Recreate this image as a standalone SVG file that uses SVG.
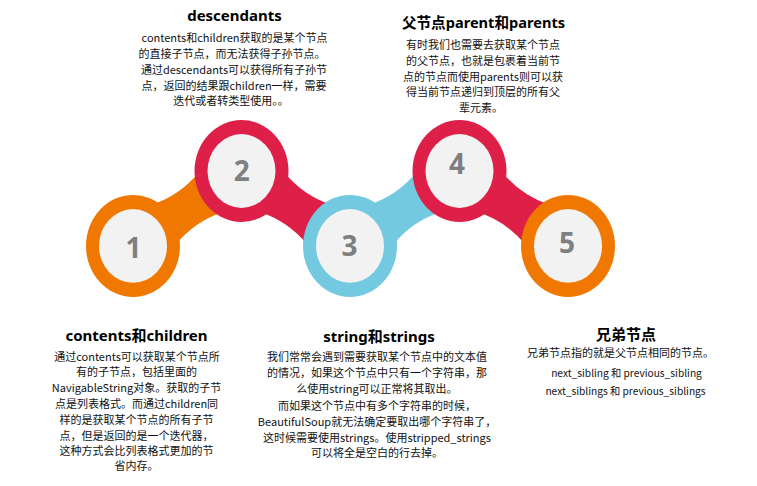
<svg xmlns="http://www.w3.org/2000/svg" width="757" height="486" viewBox="0 0 757 486">
<style>
.t{font-family:"Noto Sans","Noto Sans CJK SC",sans-serif;font-weight:bold;font-size:15px;fill:#000;text-anchor:middle}
.b{font-family:"Noto Sans CJK SC","Noto Sans",sans-serif;font-size:11px;fill:#111;text-anchor:middle}
.s{font-size:10.2px}
.n{font-family:"Open Sans","Noto Sans",sans-serif;font-weight:bold;font-size:28px;fill:#7F7F7F;text-anchor:middle}
.in{fill:#F2F2F2}
.or{fill:#F07800}.cr{fill:#DE1F48}.bl{fill:#72C9E0}
</style>
<defs>
<path id="br" d="M -28,-22 Q 0,-14 28,-22 L 28,22 Q 0,14 -28,22 Z"/>
</defs>
<rect width="757" height="486" fill="#fff"/>
<g transform="scale(1,1.085)">
<g id="connectors">
<use href="#br" class="or" transform="translate(187.25,192.15) rotate(-32.5)"/>
<use href="#br" class="cr" transform="translate(295.75,192.15) rotate(32.5)"/>
<use href="#br" class="bl" transform="translate(404.75,192.15) rotate(-32.5)"/>
<use href="#br" class="cr" transform="translate(513.75,192.15) rotate(32.5)"/>
</g>
<g id="c1"><circle cx="133" cy="226.7" r="47" class="or"/><circle cx="133" cy="226.7" r="34" class="in"/></g>
<g id="c2"><circle cx="241.5" cy="157.6" r="47" class="cr"/><circle cx="241.5" cy="157.6" r="34" class="in"/></g>
<g id="c3"><circle cx="350" cy="226.7" r="47" class="bl"/><circle cx="350" cy="226.7" r="34" class="in"/></g>
<g id="c4"><circle cx="459.5" cy="157.6" r="47" class="cr"/><circle cx="459.5" cy="157.6" r="34" class="in"/></g>
<g id="c5"><circle cx="568" cy="226.7" r="47" class="or"/><circle cx="568" cy="226.7" r="34" class="in"/></g>
</g>
<g id="numbers">
<text class="n" x="133.5" y="258">1</text>
<text class="n" x="241.7" y="181">2</text>
<text class="n" x="349.5" y="256">3</text>
<text class="n" x="457" y="174">4</text>
<text class="n" x="567" y="253">5</text>
</g>
<g id="n-descendants">
<text class="t" x="234.5" y="21">descendants</text>
<text class="b" x="234.5" y="42">contents和children获取的是某个节点</text>
<text class="b" x="232" y="58">的直接子节点，而无法获得子孙节点。</text>
<text class="b" x="234" y="74">通过descendants可以获得所有子孙节</text>
<text class="b" x="234" y="90">点，返回的结果跟children一样，需要</text>
<text class="b" x="231" y="105">迭代或者转类型使用。。</text>
</g>
<g id="n-parent">
<text class="t" x="483.5" y="28" style="font-size:14.6px">父节点parent和parents</text>
<text class="b" x="483" y="49">有时我们也需要去获取某个节点</text>
<text class="b" x="483" y="65">的父节点，也就是包裹着当前节</text>
<text class="b" x="483" y="81">点的节点而使用parents则可以获</text>
<text class="b" x="483" y="96">得当前节点递归到顶层的所有父</text>
<text class="b" x="481" y="112">辈元素。</text>
</g>
<g id="n-contents">
<text class="t" x="136.5" y="341">contents和children</text>
<text class="b" x="137" y="361">通过contents可以获取某个节点所</text>
<text class="b" x="136.5" y="376">有的子节点，包括里面的</text>
<text class="b" x="136.5" y="392">NavigableString对象。获取的子节</text>
<text class="b" x="136.5" y="408">点是列表格式。而通过children同</text>
<text class="b" x="136.5" y="424">样的是获取某个节点的所有子节</text>
<text class="b" x="136.5" y="440">点，但是返回的是一个迭代器，</text>
<text class="b" x="136.5" y="455">这种方式会比列表格式更加的节</text>
<text class="b" x="136.5" y="470">省内存。</text>
</g>
<g id="n-string">
<text class="t" x="379" y="342">string和strings</text>
<text class="b" x="377" y="361">我们常常会遇到需要获取某个节点中的文本值</text>
<text class="b" x="377" y="377">的情况，如果这个节点中只有一个字符串，那</text>
<text class="b" x="377" y="393">么使用string可以正常将其取出。</text>
<text class="b" x="377" y="410">而如果这个节点中有多个字符串的时候，</text>
<text class="b" x="377" y="426">BeautifulSoup就无法确定要取出哪个字符串了，</text>
<text class="b" x="377" y="442">这时候需要使用strings。使用stripped_strings</text>
<text class="b" x="377" y="457">可以将全是空白的行去掉。</text>
</g>
<g id="n-sibling">
<text class="t" x="626" y="340">兄弟节点</text>
<text class="b" x="620.5" y="357">兄弟节点指的就是父节点相同的节点。</text>
<text class="b s" x="626.5" y="377">next_sibling 和 previous_sibling</text>
<text class="b s" x="625.5" y="395">next_siblings 和 previous_siblings</text>
</g>
</svg>
